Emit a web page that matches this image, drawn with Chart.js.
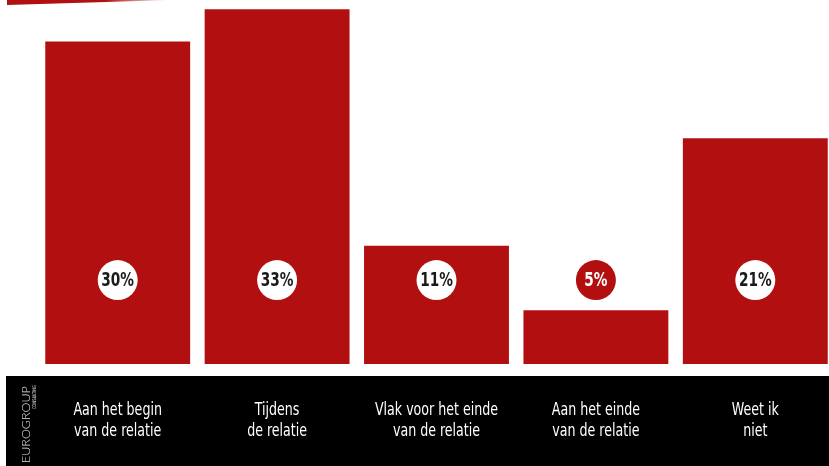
<!DOCTYPE html>
<html>
<head>
<meta charset="utf-8">
<script src="https://cdn.jsdelivr.net/npm/chart.js@4"></script>
<style>
  html, body { margin: 0; padding: 0; background: #fff; overflow: hidden; }
  #wrap { width: 835px; height: 466px; position: relative; }
</style>
</head>
<body>
<div id="wrap"><canvas id="chart"></canvas></div>
<script>
const categories = [
  ["Aan het begin", "van de relatie"],
  ["Tijdens", "de relatie"],
  ["Vlak voor het einde", "van de relatie"],
  ["Aan het einde", "van de relatie"],
  ["Weet ik", "niet"]
];
const values = [30, 33, 11, 5, 21];
const valueLabels = ["30%", "33%", "11%", "5%", "21%"];

const RED = "#b20f10";
const labelLevel = 7.8; // value height where the percentage bubbles sit
const NARROW = "'DejaVu Sans Condensed', 'DejaVu Sans', sans-serif";

// text squeezed horizontally to mimic a condensed face
function narrowText(ctx, text, x, y, squeeze) {
  ctx.save();
  ctx.translate(x, y);
  ctx.scale(squeeze, 1);
  ctx.fillText(text, 0, 0);
  ctx.restore();
}

// black band, top accent and brand text
const decorPlugin = {
  id: "decor",
  beforeDraw(chart) {
    const ctx = chart.ctx;
    const area = chart.chartArea;
    ctx.save();
    ctx.fillStyle = "#000";
    ctx.fillRect(6, area.bottom + 12, chart.width, chart.height - area.bottom - 12);

    // top-left accent stroke
    const g = ctx.createLinearGradient(7, 0, 170, 0);
    g.addColorStop(0, RED);
    g.addColorStop(0.6, RED);
    g.addColorStop(1, "rgba(178,15,16,0)");
    ctx.fillStyle = g;
    ctx.beginPath();
    ctx.moveTo(7, 0);
    ctx.lineTo(172, 0);
    ctx.lineTo(7, 5);
    ctx.closePath();
    ctx.fill();

    // brand
    ctx.translate(30, 463);
    ctx.rotate(-Math.PI / 2);
    ctx.fillStyle = "#e0e0e0";
    ctx.textBaseline = "alphabetic";
    ctx.font = "300 12.5px Lato, sans-serif";
    ctx.fillText("EUROGROUP", 0, 0);
    ctx.font = "5px 'DejaVu Sans', sans-serif";
    const w = ctx.measureText("CONSULTING").width;
    narrowText(ctx, "CONSULTING", 54, 5.5, 24 / w);
    ctx.restore();
  }
};

// category names under the bars
const catPlugin = {
  id: "cats",
  afterDraw(chart) {
    const ctx = chart.ctx;
    const x = chart.scales.x;
    ctx.save();
    ctx.fillStyle = "#fff";
    ctx.textAlign = "center";
    ctx.textBaseline = "middle";
    ctx.font = "18px " + NARROW;
    categories.forEach((lines, i) => {
      const cx = x.getPixelForTick(i);
      lines.forEach((t, j) => narrowText(ctx, t, cx, x.top + 46 + j * 21, 0.78));
    });
    ctx.restore();
  }
};

// percentage bubbles
const bubblePlugin = {
  id: "bubbles",
  afterDatasetsDraw(chart) {
    const ctx = chart.ctx;
    const meta = chart.getDatasetMeta(0);
    const y = chart.scales.y.getPixelForValue(labelLevel);
    ctx.save();
    meta.data.forEach((bar, i) => {
      const above = bar.y > y + 20;
      ctx.beginPath();
      ctx.arc(bar.x, y, 20, 0, Math.PI * 2);
      ctx.fillStyle = above ? RED : "#fff";
      ctx.fill();
      ctx.fillStyle = above ? "#fff" : "#1a1a1a";
      ctx.font = "bold 19px " + NARROW;
      ctx.textAlign = "center";
      ctx.textBaseline = "middle";
      narrowText(ctx, valueLabels[i], bar.x, y + 1, 0.8);
    });
    ctx.restore();
  }
};

new Chart(document.getElementById("chart"), {
  type: "bar",
  data: {
    labels: categories,
    datasets: [{
      data: values,
      backgroundColor: RED,
      borderWidth: 0,
      categoryPercentage: 1,
      barPercentage: 0.909
    }]
  },
  options: {
    responsive: true,
    maintainAspectRatio: false,
    animation: false,
    layout: { padding: { left: 38, right: 0, top: 0, bottom: 0 } },
    plugins: { legend: { display: false }, tooltip: { enabled: false } },
    scales: {
      y: { display: false, min: 0, max: 33.85 },
      x: {
        grid: { display: false, drawTicks: false },
        border: { display: false },
        afterFit(scale) { scale.height = 102; },
        ticks: { display: false }
      }
    }
  },
  plugins: [decorPlugin, catPlugin, bubblePlugin]
});
</script>
</body>
</html>
